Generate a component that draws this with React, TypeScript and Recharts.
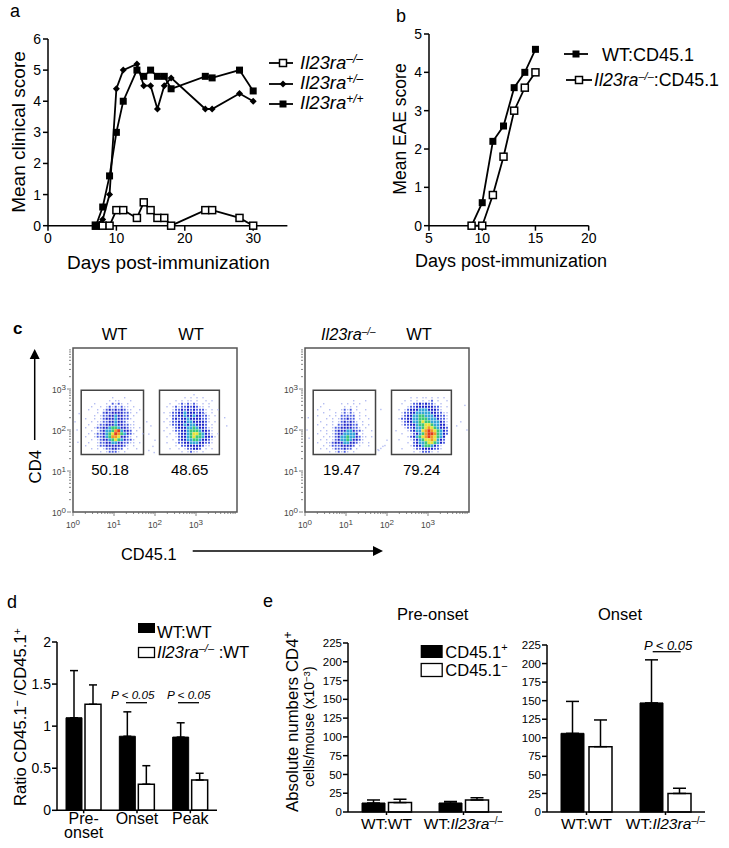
import React from 'react';
import {
  LineChart,
  Line,
  BarChart,
  Bar,
  ErrorBar,
  ScatterChart,
  Scatter,
  ReferenceArea,
  XAxis,
  YAxis,
} from 'recharts';

const FONT = '"Liberation Sans", Arial, sans-serif';
const KO = 'Il23ra';

// panel a
const daysA = [7, 8, 9, 10, 11, 13, 14, 15, 16, 17, 18, 23, 24, 28, 30];
const koA = [0, 0, 0, 0.5, 0.5, 0.25, 0.75, 0.5, 0.25, 0.25, 0, 0.5, 0.5, 0.25, 0];
const hetA = [0, 0.2, 1, 4.4, 5, 5.2, 4.5, 4.5, 3.75, 4.5, 4.75, 3.75, 3.75, 4.25, 4];
const wtA = [0, 0.6, 1.6, 3, 4, 5, 4.8, 5, 4.8, 4.8, 4.4, 4.8, 4.75, 5, 4.33];

// panel b
const daysB = [9, 10, 11, 12, 13, 14, 15];
const wtB = [0, 0.6, 2.2, 2.6, 3.6, 4, 4.6];
const koB = [0, 0, 0.8, 1.8, 3, 3.6, 4];

// panel d
const stagesD = ['Pre-onset', 'Onset', 'Peak'];
const wtD = [1.1, 0.88, 0.87];
const wtErrD = [0.56, 0.29, 0.17];
const koD = [1.26, 0.31, 0.36];
const koErrD = [0.23, 0.22, 0.08];

// panel e
const groupsE = ['WT:WT', 'WT:KO'];
const posPre = [12, 12];
const posPreErr = [4, 2];
const negPre = [12.5, 16];
const negPreErr = [4.5, 3];
const posOnset = [106, 147];
const posOnsetErr = [43, 58];
const negOnset = [88, 25];
const negOnsetErr = [36, 7];

// panel c: density read off each gate, one character per 3px cell, . = no events
const flowLevels = ['', '#b4bdf2', '#4a5be0', '#1d25c8', '#35a6d8', '#3cc878', '#e6e23c', '#f09a28', '#e23a20'];
const flowSizes = [0, 1.4, 1.9, 2.1, 2.6, 2.8, 3, 3, 3];
const gate1A = [
  '.....................',
  '.....................',
  '..........1...1......',
  '.........1.11...1....',
  '....1...1.2121.1.....',
  '...1..1.12121211.1...',
  '..1..1.1232323211..1.',
  '.....1.2323333221.1..',
  '....1.1223343322.1...',
  '.1..1.12333433221....',
  '...1.11223343321.1...',
  '..1..1223334332211...',
  '.1..12233455433211.1.',
  '...1.123445784332.1..',
  '..1.12234568754321..1',
  '.1..1223457763321.1..',
  '...1.1233456543221...',
  '..1..1223344332211.1.',
  '.1...12233333321.1...',
  '...1.1.1223322.1..1..',
  '......1.12221.1......',
];
const gate1B = [
  '....................',
  '...........1........',
  '........1.1.1.1.....',
  '.....1.1.11.1..1.1..',
  '...1..1212121.1.1...',
  '..1.12122323211.1...',
  '....122323232221.1.1',
  '.1.1223343332321.1..',
  '...12233433433221.1.',
  '..1.2323343333221...',
  '.1.12233344333321.1.',
  '...1223343443332.1..',
  '..1.12333445433211..',
  '.1..12233455543321..',
  '...1.1233456654321.1',
  '..1..12334565543321.',
  '....1.233445543321..',
  '..1..1223344433221..',
  '.....1.2233333211...',
  '...1..1.122332.1.1..',
  '.......1.1211.1.....',
];
const gate2A = [
  '.....................',
  '.....................',
  '.....................',
  '.............1...1...',
  '...1.....1.1.1.1.....',
  '..1.......1.1.1......',
  '.1...1...1212.1..1...',
  '...1...1.12121.1.....',
  '.1...1.1.22222.1.1...',
  '....1.1.122322.1..1..',
  '..1...1.1232321.1....',
  '.1..1.1.2233322.1.1..',
  '...1..1223333221.1...',
  '..1.1.12333443221..1.',
  '.1..1.123344443.1....',
  '...1.1123445443211.1.',
  '..1.1.12344543321....',
  '.1..1123334433211.1..',
  '...1.122233332.1..1..',
  '..1.1.1222322.1......',
  '.....1.12121.1.......',
];
const gate2B = [
  '....................',
  '....................',
  '......1.1.11.1.1.1..',
  '....1.1.1.1.12.1..1.',
  '...1..122323221.1...',
  '.....122333333221.1.',
  '..1.1233344433321...',
  '...1223344444332211.',
  '...1233445544433221.',
  '..12233445554443221.',
  '...1233445655444321.',
  '...1223345566544331.',
  '....122344567654332.',
  '.1...12344678765432.',
  '...1..1234578875432.',
  '.....1234567876543..',
  '..1...123456676432..',
  '.....1.23445665432..',
  '......12334554321...',
  '...1...1223333221...',
  '.......1.12221.1....',
];
const strayLeft = [
  [1.85, 1.9], [1.9, 2.1], [1.95, 1.6], [1.85, 1.5], [1.98, 1.45], [2.0, 1.75], [1.8, 2.2],
  [0.1, 2.0], [0.05, 2.2], [0.12, 1.7], [0.15, 2.4], [3.7, 2.3], [3.75, 2.1], [3.2, 2.4],
];
const strayRight = [
  [1.85, 1.55], [1.9, 1.6], [1.95, 1.62], [1.8, 1.5], [2.0, 1.75], [1.78, 1.52], [1.85, 2.5],
  [0.05, 2.0], [0.1, 1.8], [0.08, 2.3], [3.7, 2.1], [3.8, 2.2], [3.9, 2.6], [3.95, 2.0],
];
const flowDecades = [0, 1, 2, 3];
const flowMinor = [0.301, 0.477, 0.602, 0.699, 0.778, 0.845, 0.903, 0.954];
const gateY = [1.4, 2.97];
const gatesLeft = [[0.2, 1.72], [2.11, 3.57]];
const gatesRight = [[0.2, 1.72], [2.11, 3.57]];
const CELL = 3 / 41;

const flowTicks = flowDecades.flatMap((d) => [d, ...flowMinor.map((m) => d + m)]);

const gridToPoints = (grid: string[], x0: number, yTop: number) =>
  grid.flatMap((row, r) =>
    row.split('').flatMap((ch, c) =>
      ch === '.' ? [] : [{ x: x0 + (c + 0.5) * CELL, y: yTop - (r + 0.5) * CELL, level: Number(ch) }]
    )
  );

const strayToPoints = (list: number[][]) => list.map(([x, y]) => ({ x, y, level: 1 }));

const seriesRows = (xs: number[], cols: Record<string, number[]>) =>
  xs.map((day, i) => {
    const row: Record<string, number> = { day };
    Object.keys(cols).forEach((k) => (row[k] = cols[k][i]));
    return row;
  });

const OpenSquare = ({ cx, cy }: any) => (
  <rect x={cx - 3.5} y={cy - 3.5} width={7} height={7} fill="#fff" stroke="#000" strokeWidth={1.5} />
);
const FilledSquare = ({ cx, cy }: any) => <rect x={cx - 3.5} y={cy - 3.5} width={7} height={7} fill="#000" />;
const Diamond = ({ cx, cy }: any) => (
  <path d={`M${cx} ${cy - 3.5}L${cx + 3.5} ${cy}L${cx} ${cy + 3.5}L${cx - 3.5} ${cy}Z`} fill="#000" />
);

const Box: React.FC<{ left: number; top: number; children: React.ReactNode }> = ({ left, top, children }) => (
  <div style={{ position: 'absolute', left, top }}>{children}</div>
);

const PAD = { left: 50, top: 10, right: 15, bottom: 32 };
const AXIS = { stroke: '#000', strokeWidth: 1.5 };

const chartProps = (w: number, h: number) => ({
  width: w + PAD.left + PAD.right,
  height: h + PAD.top + PAD.bottom,
  margin: { top: PAD.top, right: PAD.right, left: 0, bottom: 0 },
});

const LinePanel = ({ x, y, w, h, data, xDomain, xTicks, yDomain, yTicks, fontSize, series }: any) => (
  <Box left={x - PAD.left} top={y - PAD.top}>
    <LineChart {...chartProps(w, h)} data={data}>
      <XAxis
        dataKey="day"
        type="number"
        domain={xDomain}
        ticks={xTicks}
        interval={0}
        height={PAD.bottom}
        tickSize={5}
        tickMargin={2}
        axisLine={AXIS}
        tickLine={AXIS}
        tick={{ fill: '#000', fontSize }}
      />
      <YAxis
        type="number"
        domain={yDomain}
        ticks={yTicks}
        interval={0}
        width={PAD.left}
        tickSize={5}
        tickMargin={2}
        axisLine={AXIS}
        tickLine={AXIS}
        tick={{ fill: '#000', fontSize }}
      />
      {series.map((s: any) => (
        <Line
          key={s.key}
          dataKey={s.key}
          type="linear"
          stroke="#000"
          strokeWidth={1.8}
          isAnimationActive={false}
          dot={(p: any) => <s.Shape key={p.index} cx={p.cx} cy={p.cy} />}
        />
      ))}
    </LineChart>
  </Box>
);

const FlowXTick = ({ x, y, payload }: any) => {
  const major = Number.isInteger(payload.value);
  return (
    <g>
      <line x1={x} x2={x} y1={y - 8} y2={y - 8 + (major ? 4 : 2)} stroke="#666" strokeWidth={0.8} />
      {major && (
        <text x={x} y={y + 8} textAnchor="middle" fontSize={8.5} fill="#444">
          10<tspan dy={-3} fontSize={8}>{payload.value}</tspan>
        </text>
      )}
    </g>
  );
};
const FlowYTick = ({ x, y, payload }: any) => {
  const major = Number.isInteger(payload.value);
  return (
    <g>
      <line x1={x + 6} x2={x + 6 - (major ? 4 : 2)} y1={y} y2={y} stroke="#666" strokeWidth={0.8} />
      {major && (
        <text x={x + 1} y={y + 4} textAnchor="end" fontSize={8.5} fill="#444">
          10<tspan dy={-3} fontSize={8}>{payload.value}</tspan>
        </text>
      )}
    </g>
  );
};
const FlowCell = ({ cx, cy, payload }: any) => {
  const s = flowSizes[payload.level];
  return <rect x={cx - s / 2} y={cy - s / 2} width={s} height={s} fill={flowLevels[payload.level]} />;
};

const FlowPanel = ({ x, points, gates }: any) => (
  <Box left={x - PAD.left} top={348 - PAD.top}>
    <ScatterChart {...chartProps(164, 164)}>
      <XAxis
        dataKey="x"
        type="number"
        domain={[0, 4]}
        ticks={flowTicks}
        interval={0}
        height={PAD.bottom}
        tickLine={false}
        axisLine={false}
        tick={<FlowXTick />}
      />
      <YAxis
        dataKey="y"
        type="number"
        domain={[0, 4]}
        ticks={flowTicks}
        interval={0}
        width={PAD.left}
        tickLine={false}
        axisLine={false}
        tick={<FlowYTick />}
      />
      <Scatter data={points} isAnimationActive={false} shape={<FlowCell />} />
      <ReferenceArea x1={0} x2={4} y1={0} y2={4} fill="none" stroke="#555" strokeWidth={1.5} />
      {gates.map((g: number[], i: number) => (
        <ReferenceArea key={i} x1={g[0]} x2={g[1]} y1={gateY[0]} y2={gateY[1]} fill="none" stroke="#444" strokeWidth={1.5} />
      ))}
    </ScatterChart>
  </Box>
);

const StageTick = ({ x, y, payload }: any) => {
  const value: string = payload.value;
  const lines = value.includes('-') ? [value.slice(0, value.indexOf('-') + 1), value.slice(value.indexOf('-') + 1)] : [value];
  return (
    <text x={x} textAnchor="middle" fontSize={16} fill="#000">
      {lines.map((l, i) => (
        <tspan key={l} x={x} y={y + 10 + i * 14}>
          {l}
        </tspan>
      ))}
    </text>
  );
};
const GroupTick = ({ x, y, payload }: any) => (
  <text x={x} y={y + 13} textAnchor="middle" fontSize={15.5} fill="#000">
    {payload.value === 'WT:KO' ? (
      <>
        WT:<tspan fontStyle="italic">{KO}</tspan>
        <tspan dy={-5} fontSize={10}>–/–</tspan>
      </>
    ) : (
      payload.value
    )}
  </text>
);

const BarPanel = ({ x, y, w, h, cats, pos, posErr, neg, negErr, yDomain, yTicks, tickFont, barSize, barGap, cap, Tick }: any) => {
  const data = cats.map((name: string, i: number) => ({
    name,
    pos: pos[i],
    neg: neg[i],
    posErr: [0, posErr[i]],
    negErr: [0, negErr[i]],
  }));
  return (
    <Box left={x - PAD.left} top={y - PAD.top}>
      <BarChart {...chartProps(w, h)} data={data} barSize={barSize} barGap={barGap}>
        <XAxis
          dataKey="name"
          interval={0}
          height={PAD.bottom}
          tickSize={3}
          tickMargin={1}
          axisLine={AXIS}
          tickLine={AXIS}
          tick={<Tick />}
        />
        <YAxis
          type="number"
          domain={yDomain}
          ticks={yTicks}
          interval={0}
          width={PAD.left}
          tickSize={5}
          tickMargin={1}
          axisLine={AXIS}
          tickLine={AXIS}
          tick={{ fill: '#000', fontSize: tickFont }}
        />
        <Bar dataKey="pos" fill="#000" stroke="#000" strokeWidth={1} isAnimationActive={false}>
          <ErrorBar dataKey="posErr" width={cap} stroke="#000" strokeWidth={1.5} direction="y" isAnimationActive={false} />
        </Bar>
        <Bar dataKey="neg" fill="#fff" stroke="#000" strokeWidth={1.5} isAnimationActive={false}>
          <ErrorBar dataKey="negErr" width={cap} stroke="#000" strokeWidth={1.5} direction="y" isAnimationActive={false} />
        </Bar>
      </BarChart>
    </Box>
  );
};

const KoLabel = ({ sup = '–/–', size = 12, rise = 6, tail = '' }: any) => (
  <>
    <tspan fontStyle="italic">{KO}</tspan>
    <tspan dy={-rise} fontSize={size} fontStyle="italic">{sup}</tspan>
    {tail && <tspan dy={rise}>{tail}</tspan>}
  </>
);

const PValue = ({ x, y, size, lx1, lx2, ly }: any) => (
  <g>
    <text x={x} y={y} fontSize={size} fontStyle="italic">P &lt; 0.05</text>
    <line x1={lx1} x2={lx2} y1={ly} y2={ly} stroke="#000" strokeWidth={1.3} />
  </g>
);

const Arrow = ({ d, head }: any) => (
  <g>
    <path d={d} stroke="#000" strokeWidth={1.5} fill="none" />
    <path d={head} fill="#000" />
  </g>
);

const Annotations = () => (
  <svg width={729} height={848} style={{ position: 'absolute', left: 0, top: 0, pointerEvents: 'none' }}>
    <g fill="#000" fontFamily={FONT}>
      {/* panel letters */}
      <text x={10} y={17} fontSize={18}>a</text>
      <text x={396} y={22} fontSize={18}>b</text>
      <text x={13} y={334} fontSize={17} fontWeight="bold">c</text>
      <text x={7} y={608} fontSize={18}>d</text>
      <text x={263} y={607} fontSize={18}>e</text>

      {/* a */}
      <text transform="translate(25 132) rotate(-90)" textAnchor="middle" fontSize={19}>Mean clinical score</text>
      <text x={67} y={269} fontSize={19}>Days post-immunization</text>
      {[63, 84, 104].map((ly) => (
        <line key={ly} x1={269} x2={293} y1={ly} y2={ly} stroke="#000" strokeWidth={1.8} />
      ))}
      <OpenSquare cx={283} cy={63} />
      <Diamond cx={283} cy={84} />
      <FilledSquare cx={283} cy={104} />
      <text x={300} y={69} fontSize={18.5}><KoLabel sup="–/–" /></text>
      <text x={300} y={89} fontSize={18.5}><KoLabel sup="+/–" /></text>
      <text x={300} y={109} fontSize={18.5}><KoLabel sup="+/+" /></text>

      {/* b */}
      <text transform="translate(406 129) rotate(-90)" textAnchor="middle" fontSize={17.5}>Mean EAE score</text>
      <text x={415} y={267} fontSize={18}>Days post-immunization</text>
      <line x1={564} x2={588} y1={54} y2={54} stroke="#000" strokeWidth={1.8} />
      <line x1={566} x2={592} y1={80} y2={80} stroke="#000" strokeWidth={1.8} />
      <FilledSquare cx={576} cy={54} />
      <OpenSquare cx={579} cy={80} />
      <text x={602} y={61} fontSize={18}>WT:CD45.1</text>
      <text x={594} y={86} fontSize={17.8}><KoLabel sup="–/–" size={11} tail=":CD45.1" /></text>

      {/* c */}
      <text x={114.5} y={340} textAnchor="middle" fontSize={16.5}>WT</text>
      <text x={191} y={340} textAnchor="middle" fontSize={16.5}>WT</text>
      <text x={321} y={340} fontSize={16.3}><KoLabel sup="–/–" size={10} rise={5} /></text>
      <text x={419} y={340} textAnchor="middle" fontSize={16.5}>WT</text>
      <text x={110} y={475} textAnchor="middle" fontSize={15}>50.18</text>
      <text x={189.7} y={475} textAnchor="middle" fontSize={15}>48.65</text>
      <text x={341.7} y={475} textAnchor="middle" fontSize={15}>19.47</text>
      <text x={421.7} y={475} textAnchor="middle" fontSize={15}>79.24</text>
      <text transform="translate(41 466.7) rotate(-90)" textAnchor="middle" fontSize={16.7}>CD4</text>
      <text x={121} y={560} fontSize={16.4}>CD45.1</text>
      <Arrow d="M34.7 440V358" head="M34.7 349L39.7 359H29.7Z" />
      <Arrow d="M192.7 551H375" head="M383 551L373 546V556Z" />

      {/* d */}
      <text transform="translate(26 806) rotate(-90)" fontSize={16.6}>
        Ratio CD45.1<tspan dy={-5} fontSize={11}>−</tspan><tspan dy={5}> /CD45.1</tspan>
        <tspan dy={-5} fontSize={11}>+</tspan>
      </text>
      <rect x={138} y={623} width={17} height={10} fill="#000" />
      <rect x={138.5} y={647.5} width={16} height={10} fill="#fff" stroke="#000" strokeWidth={1.3} />
      <text x={157} y={638} fontSize={16.7}>WT:WT</text>
      <text x={157} y={658} fontSize={16.7}><KoLabel sup="–/–" size={11} tail=" :WT" /></text>
      <PValue x={111} y={699} size={11.7} lx1={126} lx2={147} ly={702.7} />
      <PValue x={167} y={699} size={11.7} lx1={178} lx2={199} ly={702.7} />

      {/* e */}
      <text transform="translate(298 812) rotate(-90)" fontSize={16.8}>
        Absolute numbers CD4<tspan dy={-6} fontSize={12}>+</tspan>
      </text>
      <text transform="translate(314 787) rotate(-90)" fontSize={14}>
        cells/mouse (x10<tspan dy={-4} fontSize={9.5}>−3</tspan><tspan dy={4}>)</tspan>
      </text>
      <text x={432.7} y={620} textAnchor="middle" fontSize={16.5}>Pre-onset</text>
      <text x={620} y={620} textAnchor="middle" fontSize={16.5}>Onset</text>
      <rect x={420.7} y={645} width={22} height={13} fill="#000" />
      <rect x={421.2} y={663.5} width={21} height={13} fill="#fff" stroke="#000" strokeWidth={1.3} />
      <text x={445.3} y={658} fontSize={16.5}>CD45.1<tspan dy={-7} fontSize={11}>+</tspan></text>
      <text x={445.3} y={676} fontSize={16.5}>CD45.1<tspan dy={-6} fontSize={11}>−</tspan></text>
      <PValue x={644} y={650} size={13} lx1={652.7} lx2={680.7} ly={651.7} />
    </g>
  </svg>
);

const App = () => (
  <div style={{ position: 'absolute', left: 0, top: 0, width: 729, height: 848, overflow: 'hidden', background: '#fff', fontFamily: FONT }}>
    <LinePanel
      x={48}
      y={39.3}
      w={239.4}
      h={186.7}
      data={seriesRows(daysA, { ko: koA, het: hetA, wt: wtA })}
      xDomain={[0, 35]}
      xTicks={[0, 10, 20, 30]}
      yDomain={[0, 6]}
      yTicks={[0, 1, 2, 3, 4, 5, 6]}
      fontSize={14}
      series={[
        { key: 'ko', Shape: OpenSquare },
        { key: 'het', Shape: Diamond },
        { key: 'wt', Shape: FilledSquare },
      ]}
    />
    <LinePanel
      x={429.3}
      y={34.3}
      w={159.7}
      h={191.7}
      data={seriesRows(daysB, { wt: wtB, ko: koB })}
      xDomain={[5, 20]}
      xTicks={[5, 10, 15, 20]}
      yDomain={[0, 5]}
      yTicks={[0, 1, 2, 3, 4, 5]}
      fontSize={14}
      series={[
        { key: 'wt', Shape: FilledSquare },
        { key: 'ko', Shape: OpenSquare },
      ]}
    />
    <FlowPanel
      x={72.7}
      gates={gatesLeft}
      points={[
        ...strayToPoints(strayLeft),
        ...gridToPoints(gate1A, gatesLeft[0][0], gateY[1]),
        ...gridToPoints(gate1B, gatesLeft[1][0], gateY[1]),
      ]}
    />
    <FlowPanel
      x={305}
      gates={gatesRight}
      points={[
        ...strayToPoints(strayRight),
        ...gridToPoints(gate2A, gatesRight[0][0], gateY[1]),
        ...gridToPoints(gate2B, gatesRight[1][0], gateY[1]),
      ]}
    />
    <BarPanel
      x={57}
      y={641.7}
      w={160}
      h={168.3}
      cats={stagesD}
      pos={wtD}
      posErr={wtErrD}
      neg={koD}
      negErr={koErrD}
      yDomain={[0, 2]}
      yTicks={[0, 0.5, 1, 1.5, 2]}
      tickFont={14}
      barSize={16}
      barGap={3}
      cap={4}
      Tick={StageTick}
    />
    <BarPanel
      x={348}
      y={643}
      w={154}
      h={169}
      cats={groupsE}
      pos={posPre}
      posErr={posPreErr}
      neg={negPre}
      negErr={negPreErr}
      yDomain={[0, 225]}
      yTicks={[0, 25, 50, 75, 100, 125, 150, 175, 200, 225]}
      tickFont={11.5}
      barSize={23}
      barGap={3.5}
      cap={6.5}
      Tick={GroupTick}
    />
    <BarPanel
      x={547}
      y={645}
      w={158}
      h={167}
      cats={groupsE}
      pos={posOnset}
      posErr={posOnsetErr}
      neg={negOnset}
      negErr={negOnsetErr}
      yDomain={[0, 225]}
      yTicks={[0, 25, 50, 75, 100, 125, 150, 175, 200, 225]}
      tickFont={11.5}
      barSize={23}
      barGap={5}
      cap={6.5}
      Tick={GroupTick}
    />
    <Annotations />
  </div>
);

export default App;
